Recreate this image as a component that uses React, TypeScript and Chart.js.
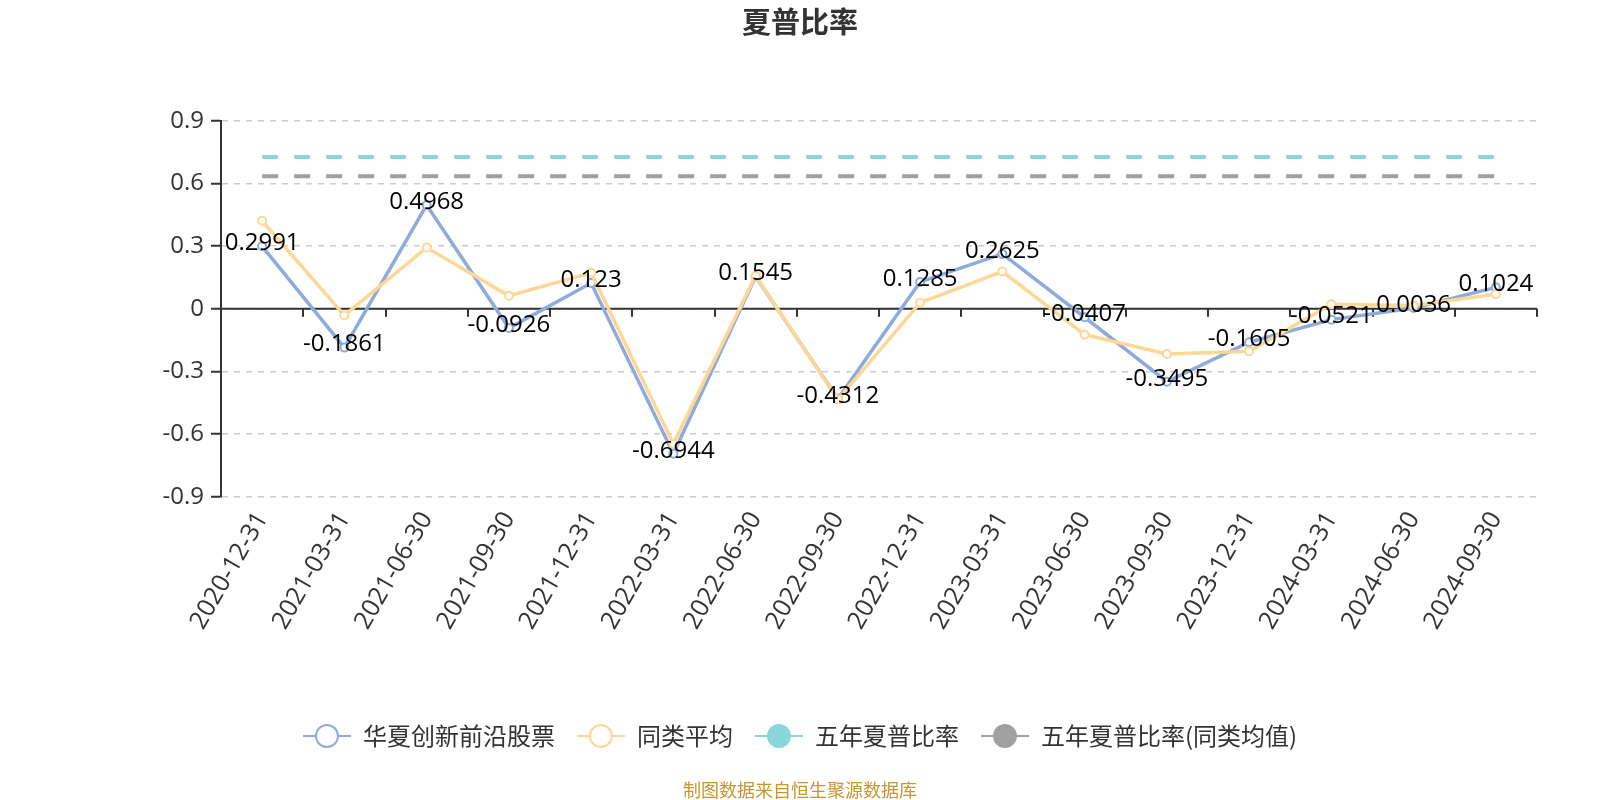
import React, { useEffect, useRef } from "react";
import { Chart, registerables } from "chart.js";

Chart.register(...registerables);

const categories = [
  "2020-12-31", "2021-03-31", "2021-06-30", "2021-09-30",
  "2021-12-31", "2022-03-31", "2022-06-30", "2022-09-30",
  "2022-12-31", "2023-03-31", "2023-06-30", "2023-09-30",
  "2023-12-31", "2024-03-31", "2024-06-30", "2024-09-30",
];
const fundValues = [
  0.2991, -0.1861, 0.4968, -0.0926, 0.123, -0.6944, 0.1545, -0.4312,
  0.1285, 0.2625, -0.0407, -0.3495, -0.1605, -0.0521, 0.0036, 0.1024,
];
const peerAverage = [
  0.421, -0.032, 0.293, 0.062, 0.172, -0.647, 0.158, -0.435,
  0.029, 0.178, -0.124, -0.217, -0.204, 0.021, 0.016, 0.07,
];
const fiveYearSharpe = 0.727;
const fiveYearSharpePeer = 0.635;
const yTicks = [-0.9, -0.6, -0.3, 0, 0.3, 0.6, 0.9];
const seriesNames = ["华夏创新前沿股票", "同类平均", "五年夏普比率", "五年夏普比率(同类均值)"];
const titleText = "夏普比率";
const footerText = "制图数据来自恒生聚源数据库";

const BLUE = "#8eabdc";
const ORANGE = "#fdd795";
const TEAL = "#88d8db";
const GRAY = "#a0a0a0";
const NUM_FONT = "'Open Sans', 'DejaVu Sans', sans-serif";
const CJK_FONT = "'Noto Sans CJK SC', 'Noto Sans', sans-serif";

function makeIcon(color: string, filled: boolean) {
  const c = document.createElement("canvas");
  c.width = 48;
  c.height = 26;
  const g = c.getContext("2d")!;
  g.strokeStyle = color;
  g.lineWidth = 2;
  g.beginPath();
  g.moveTo(0, 13);
  g.lineTo(48, 13);
  g.stroke();
  g.beginPath();
  g.arc(24, 13, 11, 0, Math.PI * 2);
  g.fillStyle = filled ? color : "#fff";
  g.fill();
  g.lineWidth = 2;
  g.stroke();
  return c;
}

const decorPlugin = {
  id: "decor",
  beforeDatasetsDraw(chart: any) {
    const { ctx, chartArea, scales } = chart;
    const y0 = scales.y.getPixelForValue(0);
    const n = categories.length;
    const w = (chartArea.right - chartArea.left) / n;
    ctx.save();
    ctx.strokeStyle = "#333";
    ctx.lineWidth = 2;
    ctx.beginPath();
    ctx.moveTo(chartArea.left, y0);
    ctx.lineTo(chartArea.right, y0);
    for (let i = 1; i <= n; i++) {
      const x = Math.round(chartArea.left + i * w);
      ctx.moveTo(x, y0);
      ctx.lineTo(x, y0 + 8);
    }
    ctx.stroke();
    ctx.restore();
  },
  afterDatasetsDraw(chart: any) {
    const { ctx } = chart;
    const meta = chart.getDatasetMeta(0);
    ctx.save();
    ctx.font = `24px ${NUM_FONT}`;
    ctx.fillStyle = "#000";
    ctx.textAlign = "center";
    ctx.textBaseline = "middle";
    meta.data.forEach((pt: any, i: number) => {
      ctx.fillText(String(fundValues[i]), pt.x, pt.y - 3);
    });
    ctx.restore();
  },
  afterDraw(chart: any) {
    const { ctx } = chart;
    ctx.save();
    ctx.font = `18px ${CJK_FONT}`;
    ctx.fillStyle = "#c9952f";
    ctx.textAlign = "center";
    ctx.textBaseline = "middle";
    ctx.fillText(footerText, 800, 790);
    ctx.restore();
  },
};

export default function App() {
  const canvasRef = useRef<HTMLCanvasElement | null>(null);

  useEffect(() => {
    const canvas = canvasRef.current;
    if (!canvas) return;
    const icons = [
      makeIcon(BLUE, false),
      makeIcon(ORANGE, false),
      makeIcon(TEAL, true),
      makeIcon(GRAY, true),
    ];
    const chart = new Chart(canvas, {
      type: "line",
      data: {
        labels: categories,
        datasets: [
          {
            label: seriesNames[0],
            data: fundValues,
            borderColor: BLUE,
            backgroundColor: "#fff",
            borderWidth: 3.5,
            pointRadius: 4,
            pointBorderWidth: 2,
            pointBorderColor: BLUE,
            pointBackgroundColor: "#fff",
            tension: 0,
            order: 1,
          },
          {
            label: seriesNames[1],
            data: peerAverage,
            borderColor: ORANGE,
            backgroundColor: "#fff",
            borderWidth: 3.5,
            pointRadius: 4,
            pointBorderWidth: 2,
            pointBorderColor: ORANGE,
            pointBackgroundColor: "#fff",
            tension: 0,
            order: 0,
          },
          {
            label: seriesNames[2],
            data: categories.map(() => fiveYearSharpe),
            borderColor: TEAL,
            borderWidth: 4,
            borderDash: [16, 16],
            pointRadius: 0,
            order: 2,
          },
          {
            label: seriesNames[3],
            data: categories.map(() => fiveYearSharpePeer),
            borderColor: GRAY,
            borderWidth: 4,
            borderDash: [16, 16],
            pointRadius: 0,
            order: 3,
          },
        ],
      },
      options: {
        animation: false,
        responsive: false,
        maintainAspectRatio: false,
        layout: { padding: { left: 0, right: 0, top: 0, bottom: 42 } },
        plugins: {
          tooltip: { enabled: false },
          title: {
            display: true,
            text: titleText,
            color: "#333",
            font: { size: 29, weight: "bold", family: CJK_FONT },
            padding: { top: 5, bottom: 81 },
          },
          legend: {
            display: true,
            position: "bottom",
            labels: {
              usePointStyle: true,
              pointStyleWidth: 48,
              padding: 22,
              color: "#333",
              font: { size: 24, family: CJK_FONT },
              generateLabels: () =>
                seriesNames.map((name, i) => ({
                  text: name,
                  pointStyle: icons[i],
                  fillStyle: "#fff",
                  strokeStyle: "#fff",
                  lineWidth: 0,
                  hidden: false,
                  datasetIndex: i,
                  fontColor: "#333",
                })),
            },
          },
        },
        scales: {
          x: {
            type: "category",
            offset: true,
            grid: { display: false, drawTicks: false },
            border: { display: false },
            ticks: {
              autoSkip: false,
              maxRotation: 60,
              minRotation: 60,
              padding: 10,
              color: "#333",
              font: { size: 25, family: NUM_FONT },
            },
            afterFit: (s: any) => {
              s.height = 205.3;
            },
          },
          y: {
            type: "linear",
            position: "left",
            min: -0.9,
            max: 0.9,
            afterBuildTicks: (s: any) => {
              s.ticks = yTicks.map((v) => ({ value: v }));
            },
            ticks: {
              color: "#333",
              padding: 7,
              font: { size: 24, family: NUM_FONT },
              callback: (v: any) => (Number(v) === 0 ? "0" : Number(v).toFixed(1)),
            },
            grid: {
              color: "#cccccc",
              lineWidth: 1.5,
              tickColor: "#333",
              tickLength: 10,
              tickWidth: 2,
            },
            border: { display: true, color: "#333", width: 2, dash: [6, 6] },
            afterFit: (s: any) => {
              s.width = 221;
            },
          },
          y2: {
            type: "linear",
            position: "right",
            display: true,
            min: -0.9,
            max: 0.9,
            ticks: { display: false },
            grid: { display: false, drawTicks: false },
            border: { display: false },
            afterFit: (s: any) => {
              s.width = 63;
            },
          },
        },
      },
      plugins: [decorPlugin],
    });
    return () => chart.destroy();
  }, []);

  return (
    <div style={{ position: "fixed", left: 0, top: 0, width: 1600, height: 800, background: "#fff" }}>
      <canvas ref={canvasRef} width={1600} height={800} style={{ display: "block", width: 1600, height: 800 }} />
    </div>
  );
}
